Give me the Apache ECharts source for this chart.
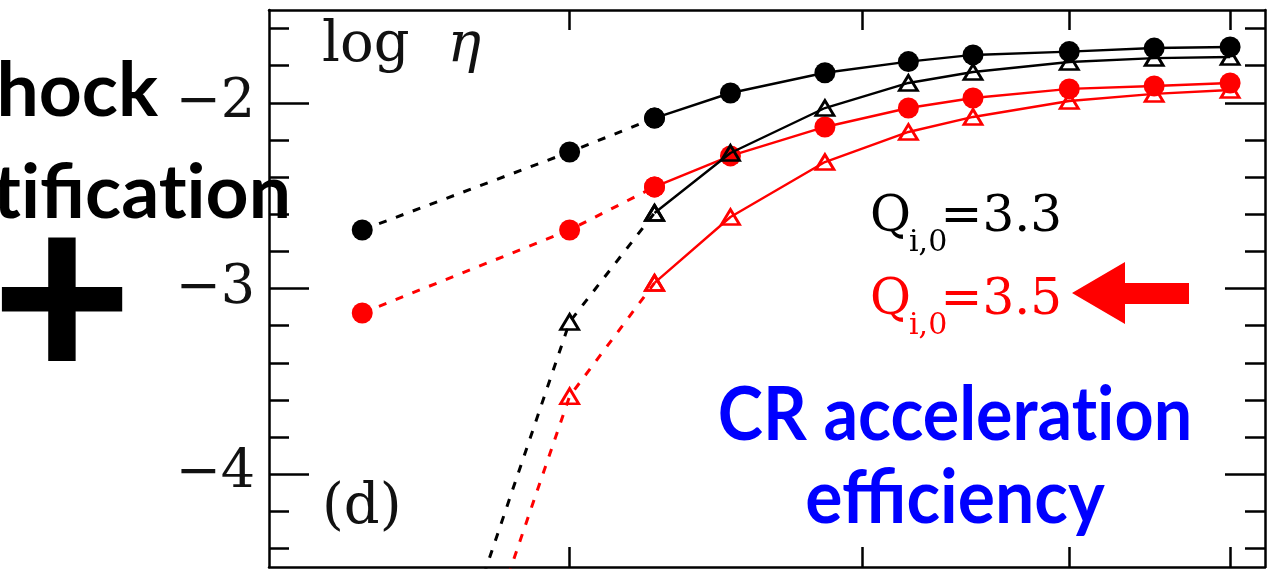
<!DOCTYPE html>
<html>
<head>
<meta charset="utf-8">
<script src="https://cdn.jsdelivr.net/npm/echarts@6/dist/echarts.min.js"></script>
<style>
  html, body { margin: 0; padding: 0; background: #fff; }
  #chart { width: 1267px; height: 570px; }
</style>
</head>
<body>
<div id="chart"></div>
<script>
// Shock Mach number (log axis) and log of the CR acceleration efficiency
const mach = [1.5, 2, 2.25, 2.5, 2.85, 3.2, 3.5, 4, 4.5, 5];
const logEtaCircleQ33 = [-2.685, -2.265, -2.082, -1.947, -1.838, -1.778, -1.742, -1.724, -1.705, -1.699];
const logEtaTriQ33    = [-6.47, -3.180, -2.593, -2.270, -2.028, -1.893, -1.834, -1.780, -1.759, -1.753];
const logEtaCircleQ35 = [-3.132, -2.685, -2.453, -2.286, -2.130, -2.028, -1.974, -1.925, -1.909, -1.893];
const logEtaTriQ35    = [-6.84, -3.580, -2.970, -2.615, -2.319, -2.157, -2.076, -1.990, -1.952, -1.931];

// axis ranges and tick positions
const xRange = [1.318, 5.248];
const yRange = [-4.5, -1.5];
const xTicks = [2, 3, 4, 5];
const yMajorTicks = [-4, -3, -2];
const yMinorTicks = [-4.4, -4.2, -3.8, -3.6, -3.4, -3.2, -2.8, -2.6, -2.4, -2.2, -1.8, -1.6];

// first segments (up to index 2) are dashed, the rest solid
const DASH_END = 2;

const BLACK = '#000000';
const RED = '#ff0000';
const SERIF = '"DejaVu Serif", serif';
const SANS = 'Lato, "Open Sans", sans-serif';
const ZWNJ = '\u200c'; // keeps "t" and "i" from fusing into a ligature

function pairs(ys) {
  return mach.map((m, i) => [m, ys[i]]);
}

function curve(ys, color, kind) {
  const all = pairs(ys);
  const symbol = kind === 'circle' ? 'circle' : 'triangle';
  const symbolSize = kind === 'circle' ? 21 : [18, 15];
  const itemStyle = kind === 'circle'
    ? { color: color }
    : { color: 'rgba(0,0,0,0)', borderColor: color, borderWidth: 2.8 };
  const base = {
    type: 'line', symbol, symbolSize, itemStyle, clip: true,
    showSymbol: true, z: kind === 'circle' ? 3 : 4
  };
  return [
    Object.assign({}, base, {
      data: all.slice(0, DASH_END + 1),
      lineStyle: { color, width: 3, type: [8, 10] }
    }),
    Object.assign({}, base, {
      data: all.slice(DASH_END),
      lineStyle: { color, width: 2.4, type: 'solid' }
    })
  ];
}

function xAxisDef(pos) {
  return {
    type: 'log', logBase: 10, position: pos,
    min: xRange[0], max: xRange[1],
    axisLine: { show: true, lineStyle: { color: BLACK, width: 2.5 } },
    axisTick: { show: true, inside: true, length: 20, customValues: xTicks,
                lineStyle: { color: BLACK, width: 2.5 } },
    axisLabel: { show: false },
    minorTick: { show: false },
    splitLine: { show: false }
  };
}

function yAxisDef(pos, ticks, len, labels, line) {
  return {
    type: 'value', position: pos,
    min: yRange[0], max: yRange[1],
    axisLine: { show: line, lineStyle: { color: BLACK, width: 2.5 } },
    axisTick: { show: true, inside: true, length: len, customValues: ticks,
                lineStyle: { color: BLACK, width: 2.5 } },
    axisLabel: labels ? {
      show: true, customValues: ticks, margin: 14,
      color: '#111', fontFamily: SERIF, fontSize: 54,
      formatter: v => (v < 0 ? '\u2212' : '') + Math.abs(v)
    } : { show: false },
    splitLine: { show: false }
  };
}

const chart = echarts.init(document.getElementById('chart'), null, { renderer: 'canvas' });

chart.setOption({
  animation: false,
  backgroundColor: '#ffffff',
  grid: { left: 269, right: 2, top: 10, bottom: 3, containLabel: false },
  xAxis: [xAxisDef('bottom'), xAxisDef('top')],
  yAxis: [
    yAxisDef('left', yMajorTicks, 40, true, true),
    yAxisDef('left', yMinorTicks, 20, false, false),
    yAxisDef('right', yMajorTicks, 40, false, true),
    yAxisDef('right', yMinorTicks, 20, false, false)
  ],
  series: [].concat(
    curve(logEtaCircleQ33, BLACK, 'circle'),
    curve(logEtaTriQ33, BLACK, 'triangle'),
    curve(logEtaCircleQ35, RED, 'circle'),
    curve(logEtaTriQ35, RED, 'triangle')
  ),
  graphic: [
    { type: 'text', left: 322, top: 18, z: 10,
      style: { text: '{a|log}{b|\u03b7}', rich: {
        a: { fontFamily: SERIF, fontSize: 56, fill: '#111' },
        b: { fontFamily: SERIF, fontSize: 56, fontStyle: 'italic', fill: '#111', padding: [0, 0, 0, 38] } } } },
    { type: 'text', left: 322, top: 480, z: 10,
      style: { text: '(d)', fontFamily: SERIF, fontSize: 56, fill: '#111' } },

    // parameter labels
    { type: 'text', x: 870, y: 218, z: 10,
      style: { text: 'Q', fontFamily: SERIF, fontSize: 50, fill: BLACK, align: 'left', verticalAlign: 'middle' } },
    { type: 'text', x: 909, y: 243, z: 10,
      style: { text: 'i,0', fontFamily: SERIF, fontSize: 30, fill: BLACK, align: 'left', verticalAlign: 'middle' } },
    { type: 'text', x: 1062, y: 218, z: 10,
      style: { text: '=3.3', fontFamily: SERIF, fontSize: 50, fill: BLACK, align: 'right', verticalAlign: 'middle' } },
    { type: 'text', x: 870, y: 301, z: 10,
      style: { text: 'Q', fontFamily: SERIF, fontSize: 50, fill: RED, align: 'left', verticalAlign: 'middle' } },
    { type: 'text', x: 909, y: 326, z: 10,
      style: { text: 'i,0', fontFamily: SERIF, fontSize: 30, fill: RED, align: 'left', verticalAlign: 'middle' } },
    { type: 'text', x: 1062, y: 301, z: 10,
      style: { text: '=3.5', fontFamily: SERIF, fontSize: 50, fill: RED, align: 'right', verticalAlign: 'middle' } },

    // arrow pointing at the Q = 3.5 label
    { type: 'polygon', z: 10,
      shape: { points: [[1072, 293], [1125, 262], [1125, 283], [1189, 283], [1189, 304], [1125, 304], [1125, 324]] },
      style: { fill: RED } },

    // annotation
    { type: 'text', x: 955, y: 416, z: 10, scaleX: 0.91, originX: 0, originY: 0,
      style: { text: 'CR accelera' + 't' + ZWNJ + 'ion', fontFamily: SANS, fontWeight: 'bold', fontSize: 75,
               fill: '#0000ff', align: 'center', verticalAlign: 'middle' } },
    { type: 'text', x: 955, y: 499, z: 10, scaleX: 0.93, originX: 0, originY: 0,
      style: { text: 'efficiency', fontFamily: SANS, fontWeight: 'bold', fontSize: 75,
               fill: '#0000ff', align: 'center', verticalAlign: 'middle' } },

    { type: 'text', x: 158, y: 92, z: 10,
      style: { text: 'Shock', fontFamily: SANS, fontWeight: 'bold', fontSize: 75,
               fill: BLACK, align: 'right', verticalAlign: 'middle' } },
    { type: 'text', x: 291, y: 194, z: 11,
      style: { text: 'iden' + 't' + ZWNJ + 'ifica' + 't' + ZWNJ + 'ion', fontFamily: SANS, fontWeight: 'bold', fontSize: 75,
               fill: BLACK, align: 'right', verticalAlign: 'middle' } },
    { type: 'text', x: 62, y: 302, z: 10,
      style: { text: '+', fontFamily: SANS, fontWeight: 900, fontSize: 245,
               fill: BLACK, align: 'center', verticalAlign: 'middle' } }
  ]
});
</script>
</body>
</html>
